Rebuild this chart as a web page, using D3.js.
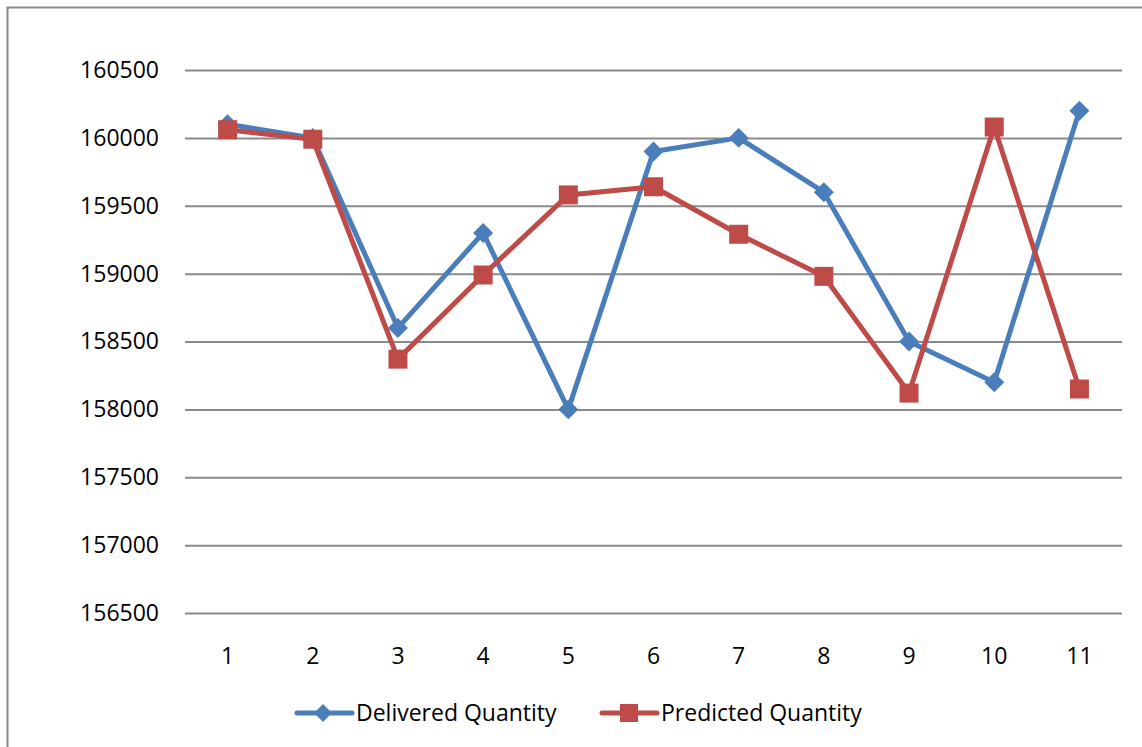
<!DOCTYPE html>
<html>
<head>
<meta charset="utf-8">
<script src="https://cdn.jsdelivr.net/npm/d3@7"></script>
<style>
  body { margin: 0; background: #fff; }
  text { font-family: "Open Sans", sans-serif; fill: #000; }
</style>
</head>
<body>
<svg></svg>
<script>
// data
var categories = ['1', '2', '3', '4', '5', '6', '7', '8', '9', '10', '11']
var delivered = [160100, 160000, 158600, 159300, 158000, 159900, 160000, 159600, 158500, 158200, 160200]
var predicted = [160060, 159990, 158370, 158990, 159580, 159640, 159290, 158980, 158120, 160080, 158150]
var yTicks = [156500, 157000, 157500, 158000, 158500, 159000, 159500, 160000, 160500]
var seriesNames = ['Delivered Quantity', 'Predicted Quantity']

var svgWidth = 1142, svgHeight = 747
var svg = d3.select('svg')
    .attr('width', svgWidth)
    .attr('height', svgHeight)

var blue = '#4a7ebb', red = '#be4b48'

// outer chart border (cropped at right and bottom)
svg.append('path')
    .attr('d', 'M7.5,' + svgHeight + 'V7.5H' + svgWidth)
    .attr('fill', 'none')
    .attr('stroke', '#888')
    .attr('stroke-width', 2)

var plot = {left: 185, right: 1122, top: 70, bottom: 613}

var x = d3.scaleBand()
    .domain(categories)
    .range([plot.left, plot.right])
var y = d3.scaleLinear()
    .domain([156500, 160500])
    .range([plot.bottom, plot.top])

function cx(i) { return x(categories[i]) + x.bandwidth() / 2 }

// y axis with gridlines
var yAxis = svg.append('g')
    .attr('transform', 'translate(' + plot.left + ',0)')
    .call(d3.axisLeft(y).tickValues(yTicks).tickSize(-(plot.right - plot.left)).tickPadding(26).tickFormat(d3.format('d')))
yAxis.select('.domain').remove()
yAxis.selectAll('line').attr('stroke', '#8a8a8a').attr('stroke-width', 2)
yAxis.selectAll('text')
    .attr('font-size', 23)
    .attr('font-family', '"Open Sans", sans-serif')
    .attr('fill', '#000')

// x axis labels
var xAxis = svg.append('g')
    .attr('transform', 'translate(0,' + plot.bottom + ')')
    .call(d3.axisBottom(x).tickSize(0).tickPadding(30))
xAxis.select('.domain').remove()
xAxis.selectAll('text')
    .attr('font-size', 23)
    .attr('font-family', '"Open Sans", sans-serif')
    .attr('fill', '#000')
    .attr('dy', '0.35em')
    .attr('y', 43)

var line = d3.line()
    .x(function(d, i) { return cx(i) })
    .y(function(d) { return y(d) })

var diamond = d3.symbol().type(d3.symbolSquare).size(200)
var square = d3.symbol().type(d3.symbolSquare).size(361)

var series = [
    {values: delivered, color: blue, marker: 'diamond'},
    {values: predicted, color: red, marker: 'square'}
]

series.forEach(function(s) {
    svg.append('path')
        .datum(s.values)
        .attr('d', line)
        .attr('fill', 'none')
        .attr('stroke', s.color)
        .attr('stroke-width', 5)
        .attr('stroke-linejoin', 'round')

    svg.selectAll(null)
        .data(s.values)
        .enter()
        .append('path')
        .attr('d', s.marker == 'diamond' ? diamond : square)
        .attr('transform', function(d, i) {
            return 'translate(' + cx(i) + ',' + y(d) + ')' + (s.marker == 'diamond' ? ' rotate(45)' : '')
        })
        .attr('fill', s.color)
})

// legend
var legendX = [297, 602]
var legend = svg.selectAll('.legend')
    .data(seriesNames)
    .enter()
    .append('g')
    .attr('class', 'legend')
    .attr('transform', function(d, i) { return 'translate(' + legendX[i] + ',713)' })

legend.append('line')
    .attr('x1', 0).attr('x2', 55)
    .attr('stroke', function(d, i) { return series[i].color })
    .attr('stroke-width', 5)
    .attr('stroke-linecap', 'round')

legend.append('path')
    .attr('d', function(d, i) { return i == 0 ? d3.symbol().type(d3.symbolSquare).size(160)() : d3.symbol().type(d3.symbolSquare).size(324)() })
    .attr('transform', function(d, i) { return i == 0 ? 'translate(26,0) rotate(45)' : 'translate(27,0)' })
    .attr('fill', function(d, i) { return series[i].color })

legend.append('text')
    .attr('x', 59)
    .attr('dy', '0.35em')
    .attr('font-size', 23)
    .text(function(d) { return d })
</script>
</body>
</html>
